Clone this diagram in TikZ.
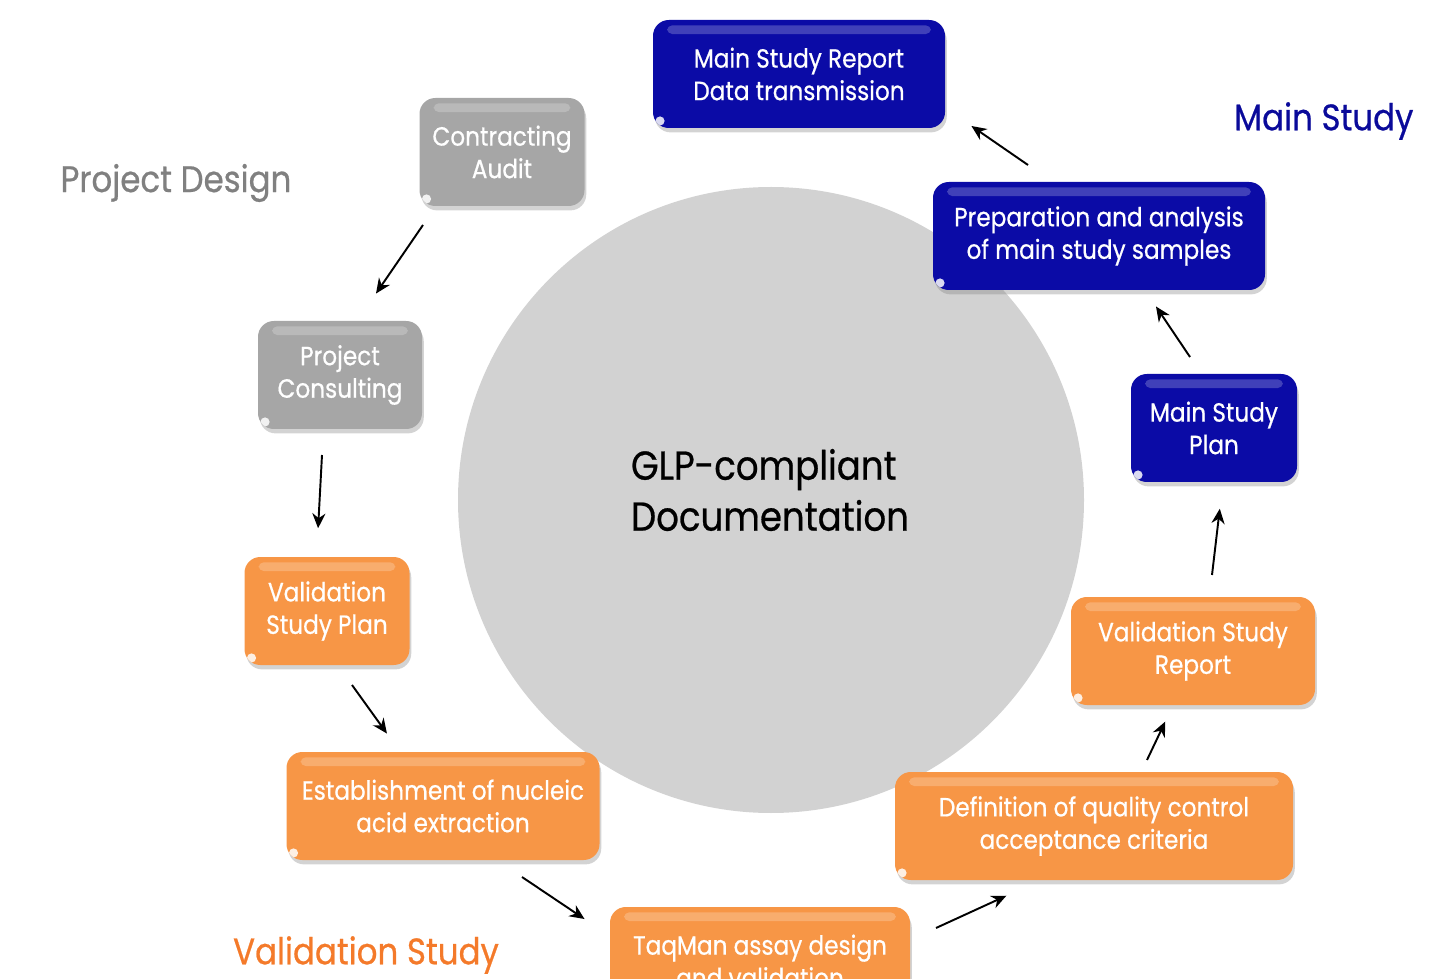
\documentclass[tikz,border=0pt]{standalone}
\usepackage{fontspec}
\setmainfont{Poppins}[FakeStretch=0.88,FakeBold=0.6]
\usetikzlibrary{shadows,arrows.meta}

\definecolor{glpgray}{HTML}{A6A6A6}
\definecolor{glpblue}{HTML}{0B0BA6}
\definecolor{glporange}{HTML}{F79646}
\definecolor{labelorange}{HTML}{F47A2A}
\definecolor{labelblue}{HTML}{0A0A9A}

\begin{document}
\begin{tikzpicture}[>={Stealth[length=8.5pt,width=7.5pt]},thick,
  box/.style={rounded corners=9pt,text=white,align=center,inner sep=0pt,
    font=\fontsize{15}{18.5}\selectfont,minimum height=2.16cm,
    drop shadow={shadow xshift=1pt,shadow yshift=-2.5pt,opacity=0.35},
    path picture={
      \fill[white,opacity=0.22,rounded corners=3pt]
        ([xshift=8pt,yshift=-3pt]path picture bounding box.north west) rectangle
        ([xshift=-8pt,yshift=-8pt]path picture bounding box.north east);
      \fill[white,opacity=0.85]
        ([xshift=4pt,yshift=4pt]path picture bounding box.south west) circle (2.6pt);
    }},
  gray node/.style={box,fill=glpgray},
  blue node/.style={box,fill=glpblue},
  orange node/.style={box,fill=glporange},
  flow/.style={->,line width=1.1pt,shorten >=1pt},
  phase/.style={font=\fontsize{21}{25}\selectfont}]

\useasboundingbox (0,0) rectangle (28.8,-19.58);

% centre
\fill[gray!35] (15.42,-10.0) circle (6.26);
\node (0) at (15.4,-9.8) [align=left,font=\fontsize{23}{29}\selectfont] {GLP-compliant\\Documentation};

% phase labels
\node[phase,text=gray] (pd) at (3.52,-3.66) {Project Design};
\node[phase,text=labelblue,anchor=east] (ms) at (28.4,-2.42) {Main Study};
\node[phase,text=labelorange] (vs) at (7.32,-19.1) {Validation Study};

% steps
\node[gray node,minimum width=3.3cm] (1) at (10.04,-3.04) {Contracting\\Audit};
\node[gray node,minimum width=3.28cm] (2) at (6.80,-7.50) {Project\\Consulting};
\node[orange node,minimum width=3.3cm] (3) at (6.54,-12.22) {Validation\\Study Plan};
\node[orange node,minimum width=6.26cm] (4) at (8.86,-16.12) {Establishment of nucleic\\acid extraction};
\node[orange node,minimum width=6.0cm] (5) at (15.2,-19.22) {TaqMan assay design\\and validation};
\node[orange node,minimum width=7.96cm] (6) at (21.88,-16.52) {Definition of quality control\\acceptance criteria};
\node[orange node,minimum width=4.88cm] (7) at (23.86,-13.02) {Validation Study\\Report};
\node[blue node,minimum width=3.32cm] (8) at (24.28,-8.56) {Main Study\\Plan};
\node[blue node,minimum width=6.64cm] (9) at (21.98,-4.72) {Preparation and analysis\\of main study samples};
\node[blue node,minimum width=5.84cm] (10) at (15.98,-1.48) {Main Study Report\\Data transmission};

% arrows between the steps
\draw[flow] ([shift={(-1.58,-1.46)}]1.center) -- ([shift={(0.70,1.60)}]2.center);
\draw[flow] ([shift={(-0.36,-1.60)}]2.center) -- ([shift={(-0.18,1.62)}]3.center);
\draw[flow] ([shift={(0.50,-1.48)}]3.center) -- ([shift={(-1.10,1.42)}]4.center);
\draw[flow] ([shift={(1.58,-1.42)}]4.center) -- ([shift={(-3.48,0.82)}]5.center);
\draw[flow] ([shift={(3.52,0.66)}]5.center) -- ([shift={(-1.72,-1.38)}]6.center);
\draw[flow] ([shift={(1.06,1.32)}]6.center) -- ([shift={(-0.54,-1.38)}]7.center);
\draw[flow] ([shift={(0.38,1.52)}]7.center) -- ([shift={(0.12,-1.58)}]8.center);
\draw[flow] ([shift={(-0.48,1.42)}]8.center) -- ([shift={(1.12,-1.38)}]9.center);
\draw[flow] ([shift={(-1.42,1.42)}]9.center) -- ([shift={(3.42,-1.02)}]10.center);

\end{tikzpicture}
\end{document}
